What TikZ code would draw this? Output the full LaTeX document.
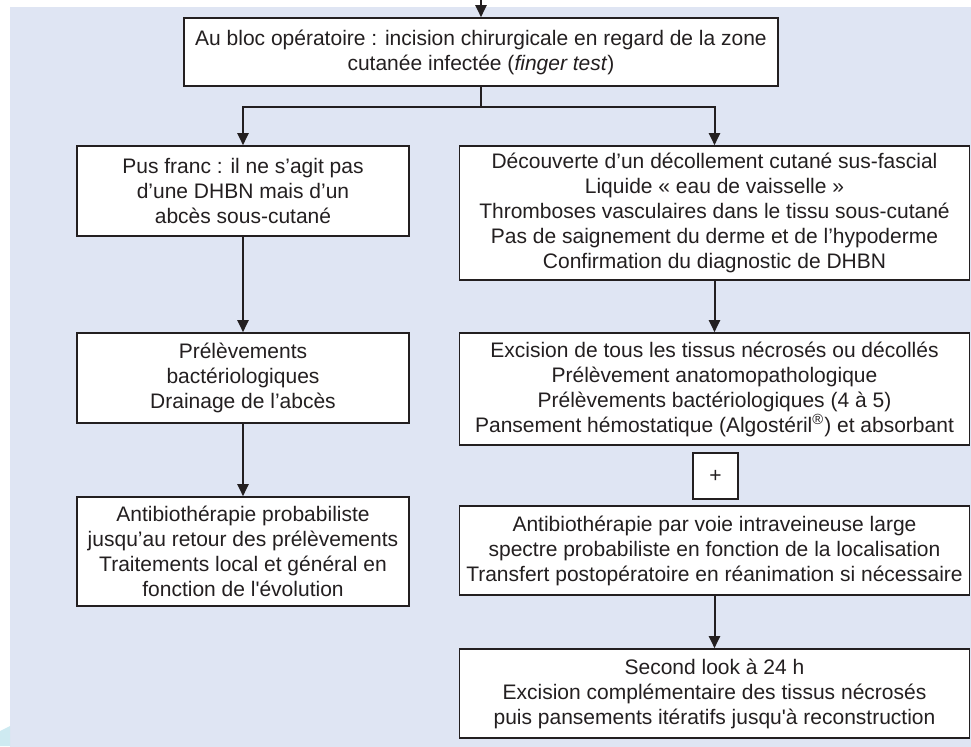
\documentclass[tikz,border=0pt]{standalone}
\usepackage{fontspec}
\setmainfont{Liberation Sans}[Ligatures=TeXOff]
\usetikzlibrary{arrows.meta}
\definecolor{fond}{RGB}{223,229,243}
\definecolor{coin}{RGB}{206,234,241}
\definecolor{trait}{RGB}{35,31,32}

\begin{document}
\begin{tikzpicture}[x=0.5pt,y=0.5pt,
  boite/.style={draw=trait, line width=0.8pt, fill=white, align=center, inner sep=0pt,
    text=trait, font=\fontsize{10.5}{12.5}\selectfont},
  gauche/.style={boite, minimum width=166pt},
  droite/.style={boite, minimum width=255pt},
  fleche/.style={-{Triangle[length=6pt,width=5.5pt]}, line width=1pt, draw=trait}]
\useasboundingbox (0,0) rectangle (971,-746);
\fill[fond] (10,-7) rectangle (975,-750);
\fill[coin] (0,-731) .. controls (5,-729) .. (10,-726) -- (10,-746) -- (0,-746) -- cycle;

\node[boite, minimum width=297pt, minimum height=34pt] (bloc) at (481,-52)
  {Au bloc opératoire : incision chirurgicale en regard de la zone\\cutanée infectée (\textit{finger test})};

\node[gauche, minimum height=45pt] (pus) at (243,-191)
  {Pus franc : il ne s’agit pas\\d’une DHBN mais d’un\\abcès sous-cutané};
\node[gauche, minimum height=45pt] (prelev) at (243,-378)
  {Prélèvements\\bactériologiques\\Drainage de l’abcès};
\node[gauche, minimum height=54.5pt] (probab) at (243,-551.5)
  {Antibiothérapie probabiliste\\jusqu’au retour des prélèvements\\Traitements local et général en\\fonction de l'évolution};

\node[droite, minimum height=67pt] (decouverte) at (714.5,-213)
  {Découverte d’un décollement cutané sus-fascial\\Liquide « eau de vaisselle »\\Thromboses vasculaires dans le tissu sous-cutané\\Pas de saignement du derme et de l’hypoderme\\Confirmation du diagnostic de DHBN};
\node[droite, minimum height=56pt] (excision) at (714.5,-389)
  {Excision de tous les tissus nécrosés ou décollés\\Prélèvement anatomopathologique\\Prélèvements bactériologiques (4 à 5)\\Pansement hémostatique (Algostéril\textsuperscript{®}) et absorbant};
\node[boite, minimum width=22.5pt, minimum height=23pt] (plus) at (715.5,-476) {+};
\node[droite, minimum height=44.5pt] (intravein) at (714.5,-550.5)
  {Antibiothérapie par voie intraveineuse large\\spectre probabiliste en fonction de la localisation\\Transfert postopératoire en réanimation si nécessaire};
\node[droite, minimum height=44.5pt] (second) at (714.5,-693.5)
  {Second look à 24 h\\Excision complémentaire des tissus nécrosés\\puis pansements itératifs jusqu'à reconstruction};

\coordinate (entree) at (481,2);
\coordinate (fourche) at (481,-107);
\draw[fleche] (entree) -- (bloc.north);
\draw[line width=1pt, draw=trait] (bloc.south) -- (fourche);
\draw[fleche] (fourche) -| (pus.north);
\draw[fleche] (fourche) -| (decouverte.north);
\draw[fleche] (pus.south) -- (prelev.north);
\draw[fleche] (prelev.south) -- (probab.north);
\draw[fleche] (decouverte.south) -- (excision.north);
\draw[fleche] (intravein.south) -- (second.north);
\end{tikzpicture}
\end{document}
